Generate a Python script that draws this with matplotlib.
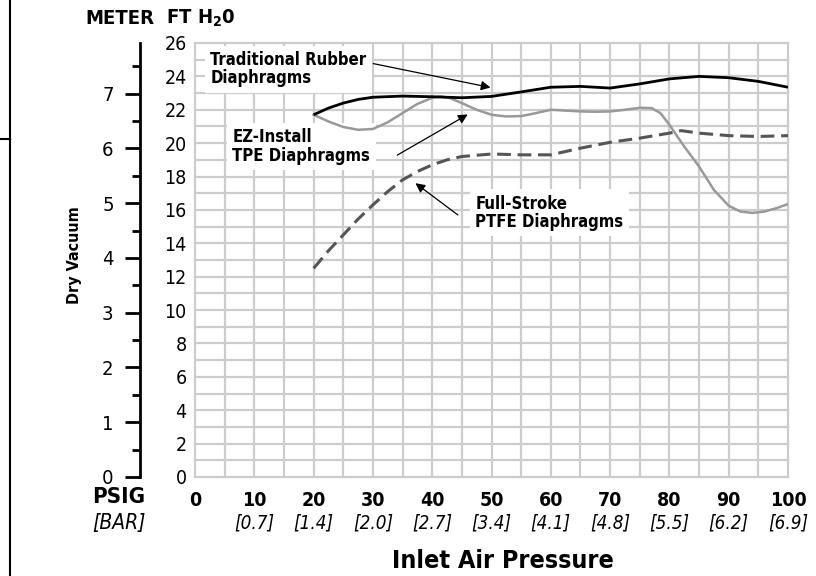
import matplotlib
matplotlib.use("Agg")
import matplotlib.pyplot as plt
import numpy as np
from matplotlib.lines import Line2D

plt.rcParams['font.family'] = ['Liberation Sans Narrow', 'DejaVu Sans']
plt.rcParams['font.stretch'] = 'condensed'

# ---- data ----
psig_ticks = [0, 10, 20, 30, 40, 50, 60, 70, 80, 90, 100]
bar_labels = ["", "[0.7]", "[1.4]", "[2.0]", "[2.7]", "[3.4]", "[4.1]", "[4.8]", "[5.5]", "[6.2]", "[6.9]"]
ft_ticks = list(range(0, 27, 2))
meter_ticks = [0, 1, 2, 3, 4, 5, 6, 7]

rubber_x = [20, 22.5, 25, 27.5, 30, 35, 40, 45, 50, 55, 60, 65, 70, 75, 80, 85, 90, 95, 100]
rubber_y = [21.7, 22.1, 22.4, 22.62, 22.75, 22.82, 22.78, 22.72, 22.8, 23.07, 23.35, 23.4, 23.3, 23.55, 23.85, 24.0, 23.92, 23.7, 23.35]

tpe_x = [20, 22.5, 25, 27.5, 30, 32.5, 35, 37.5, 40, 41.5, 43, 45, 47.5, 50, 52.5, 55, 57.5, 60, 62.5, 65,
         67.5, 70, 72.5, 75, 77, 78.5, 80, 82.5, 85, 87.5, 90, 92, 94, 96, 98, 100]
tpe_y = [21.7, 21.3, 20.97, 20.8, 20.85, 21.25, 21.8, 22.35, 22.72, 22.8, 22.7, 22.4, 22.0, 21.7, 21.6, 21.62, 21.8, 22.0, 21.95, 21.9,
         21.88, 21.9, 22.0, 22.12, 22.1, 21.8, 21.1, 19.8, 18.6, 17.2, 16.25, 15.9, 15.82, 15.9, 16.1, 16.35]

ptfe_x = [20, 22.5, 25, 27.5, 30, 32.5, 35, 37.5, 40, 42.5, 45, 50, 55, 60, 65, 70, 75, 80, 82, 85, 90, 95, 100]
ptfe_y = [12.5, 13.55, 14.5, 15.45, 16.3, 17.1, 17.8, 18.3, 18.7, 19.0, 19.2, 19.35, 19.3, 19.3, 19.7, 20.05, 20.3, 20.6, 20.75, 20.6, 20.45, 20.4, 20.45]

W, H = 816, 576
fig = plt.figure(figsize=(8.16, 5.76), dpi=100)
x0, x1, y0, y1 = 195, 788, 43, 477
ax = fig.add_axes([x0 / W, (H - y1) / H, (x1 - x0) / W, (y1 - y0) / H])
ax.set_xlim(0, 100)
ax.set_ylim(0, 26)

for s in ax.spines.values():
    s.set_visible(False)

ax.set_xticks(psig_ticks)
ax.set_xticks(np.arange(0, 101, 5), minor=True)
ax.set_yticks(ft_ticks)
ax.set_yticks(np.arange(0, 27, 1), minor=True)
ax.grid(which='both', color='#cccccc', linewidth=1.6, clip_on=False)
ax.set_axisbelow(True)
ax.tick_params(which='both', length=0)
ax.tick_params(axis='y', labelsize=14, pad=6)
ax.tick_params(axis='x', labelsize=14, pad=10)
for lab in ax.get_xticklabels():
    lab.set_fontweight('bold')

# bar labels
for xv, bl in zip(psig_ticks, bar_labels):
    ax.text(xv, -0.107, bl, transform=ax.get_xaxis_transform(), ha='center', va='center',
            fontsize=13.5, style='italic')
ax.text(-12.8, -0.047, "PSIG", transform=ax.get_xaxis_transform(), ha='center', va='center',
        fontsize=16, fontweight='bold')
ax.text(-12.8, -0.107, "[BAR]", transform=ax.get_xaxis_transform(), ha='center', va='center',
        fontsize=15, style='italic')

# curves
ax.plot(rubber_x, rubber_y, color='black', lw=2.0, solid_capstyle='butt', zorder=7)
ax.plot(tpe_x, tpe_y, color='#999999', lw=1.8, zorder=6)
ax.plot(ptfe_x, ptfe_y, color='#555555', lw=2.2, dashes=(4.5, 2.2), zorder=6)

# meter axis
sec = ax.secondary_yaxis((140 - x0) / (x1 - x0), functions=(lambda f: f / 3.281, lambda m: m * 3.281))
sec.set_yticks(meter_ticks)
sec.set_yticks(np.arange(0.5, 8, 1), minor=True)
sec.spines['left'].set_linewidth(2.0)
sec.tick_params(which='major', length=11, width=2.0, labelsize=14.5, pad=8)
sec.tick_params(which='minor', length=6, width=2.0)

# annotation boxes
bbox = dict(facecolor='white', edgecolor='none', pad=4)
fs_ann = 12
ax.text(2.6, 25.5, "Traditional Rubber\nDiaphragms", fontsize=fs_ann, fontweight='bold', va='top', ha='left',
        linespacing=1.0, bbox=bbox, zorder=5)
ax.annotate("", xy=(50.3, 23.3), xytext=(29.6, 24.8),
            arrowprops=dict(arrowstyle='-|>', color='black', lw=0.9, mutation_scale=14), zorder=8)
ax.text(6.3, 20.9, "EZ-Install\nTPE Diaphragms", fontsize=fs_ann, fontweight='bold', va='top', ha='left',
        linespacing=1.05, bbox=bbox, zorder=5)
ax.annotate("", xy=(46.4, 21.8), xytext=(33.7, 19.2),
            arrowprops=dict(arrowstyle='-|>', color='black', lw=0.9, mutation_scale=14), zorder=8)
ax.text(47.3, 16.9, "Full-Stroke\nPTFE Diaphragms", fontsize=fs_ann, fontweight='bold', va='top', ha='left',
        linespacing=1.0, bbox=bbox, zorder=5)
ax.annotate("", xy=(36.8, 17.7), xytext=(44.7, 15.6),
            arrowprops=dict(arrowstyle='-|>', color='black', lw=0.9, mutation_scale=14), zorder=8)

# header / labels
fig.text(120 / W, 1 - 18 / H, "METER", fontsize=14.5, fontweight='bold', ha='center', va='center')
fig.text(201 / W, 1 - 18 / H, r"FT H$_\mathbf{2}$0", fontsize=14.5, fontweight='bold', ha='center', va='center')
fig.text(75 / W, 1 - 255 / H, "Dry Vacuum", fontsize=11.5, fontweight='bold', rotation=90, ha='center', va='center')
fig.text(503 / W, 1 - 561 / H, "Inlet Air Pressure", fontsize=18, fontweight='bold', ha='center', va='center')

# decorative frame lines at left
fig.add_artist(Line2D([10 / W, 10 / W], [0, 1], color='black', lw=1.5))
fig.add_artist(Line2D([0, 10 / W], [1 - 139 / H, 1 - 139 / H], color='black', lw=1.5))

fig.savefig("out.png", dpi=100)
